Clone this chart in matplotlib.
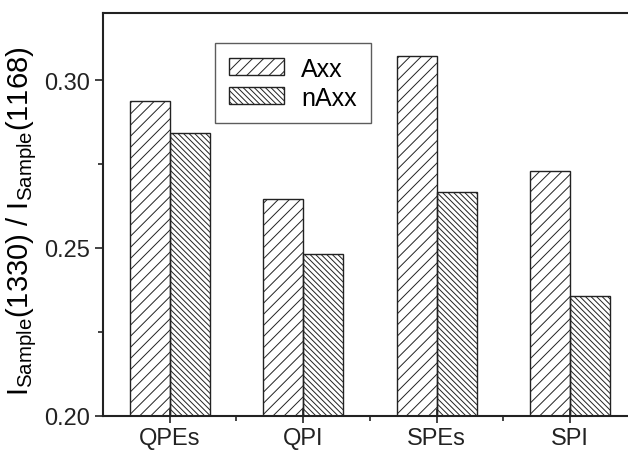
import numpy as np
import matplotlib
matplotlib.use("Agg")
import matplotlib.pyplot as plt
from matplotlib.ticker import MultipleLocator, FixedLocator

plt.rcParams['font.family'] = ['Liberation Sans', 'DejaVu Sans']
plt.rcParams['mathtext.fontset'] = 'custom'
plt.rcParams['mathtext.rm'] = 'Liberation Sans'
plt.rcParams['mathtext.it'] = 'Liberation Sans'
plt.rcParams['hatch.linewidth'] = 0.7

# data
categories = ['QPEs', 'QPI', 'SPEs', 'SPI']
axx = [0.2939, 0.2646, 0.3073, 0.2728]
naxx = [0.2843, 0.2481, 0.2666, 0.2356]

fig = plt.figure(figsize=(6.28, 4.52), dpi=100)
ax = fig.add_axes([0.164, 0.078, 0.85, 0.891])

x = np.arange(len(categories))
w = 0.3
ax.bar(x - w/2, axx, w, bottom=0, fill=False, hatch='///', edgecolor='#222222',
       linewidth=1.0, label='Axx')
ax.bar(x + w/2, naxx, w, bottom=0, fill=False, hatch='\\' * 6, edgecolor='#222222',
       linewidth=1.0, label='nAxx')

ax.set_xlim(-0.5, len(categories) - 0.5)
ax.set_ylim(0.20, 0.32)
ax.set_xticks(x)
ax.set_xticklabels(categories, fontsize=17)
ax.xaxis.set_minor_locator(FixedLocator([0.5, 1.5, 2.5]))
ax.set_yticks([0.20, 0.25, 0.30])
ax.set_yticklabels(['0.20', '0.25', '0.30'], fontsize=17)
ax.yaxis.set_minor_locator(MultipleLocator(0.025))

for s in ['left', 'bottom', 'top', 'right']:
    ax.spines[s].set_linewidth(1.5)
    ax.spines[s].set_color('#222222')

ax.tick_params(which='major', direction='out', length=6, width=1.2, colors='#222222', pad=3)
ax.tick_params(which='minor', direction='out', length=3.5, width=1.2, colors='#222222')
ax.tick_params(axis='x', which='major', direction='inout', length=10)

ax.set_ylabel(r'$\mathregular{I_{Sample}(1330)\ /\ I_{Sample}(1168)}$', fontsize=21, labelpad=2)
ax.yaxis.set_label_coords(-0.12, 0.485)

leg = ax.legend(loc='upper left', bbox_to_anchor=(0.21, 0.926), fontsize=18,
                frameon=True, fancybox=False, edgecolor='#333333',
                handlelength=2.2, handleheight=0.65, borderpad=0.55, labelspacing=0.2,
                handletextpad=0.7, borderaxespad=0)
leg.get_frame().set_linewidth(1.0)

fig.savefig('out.png', dpi=100)
